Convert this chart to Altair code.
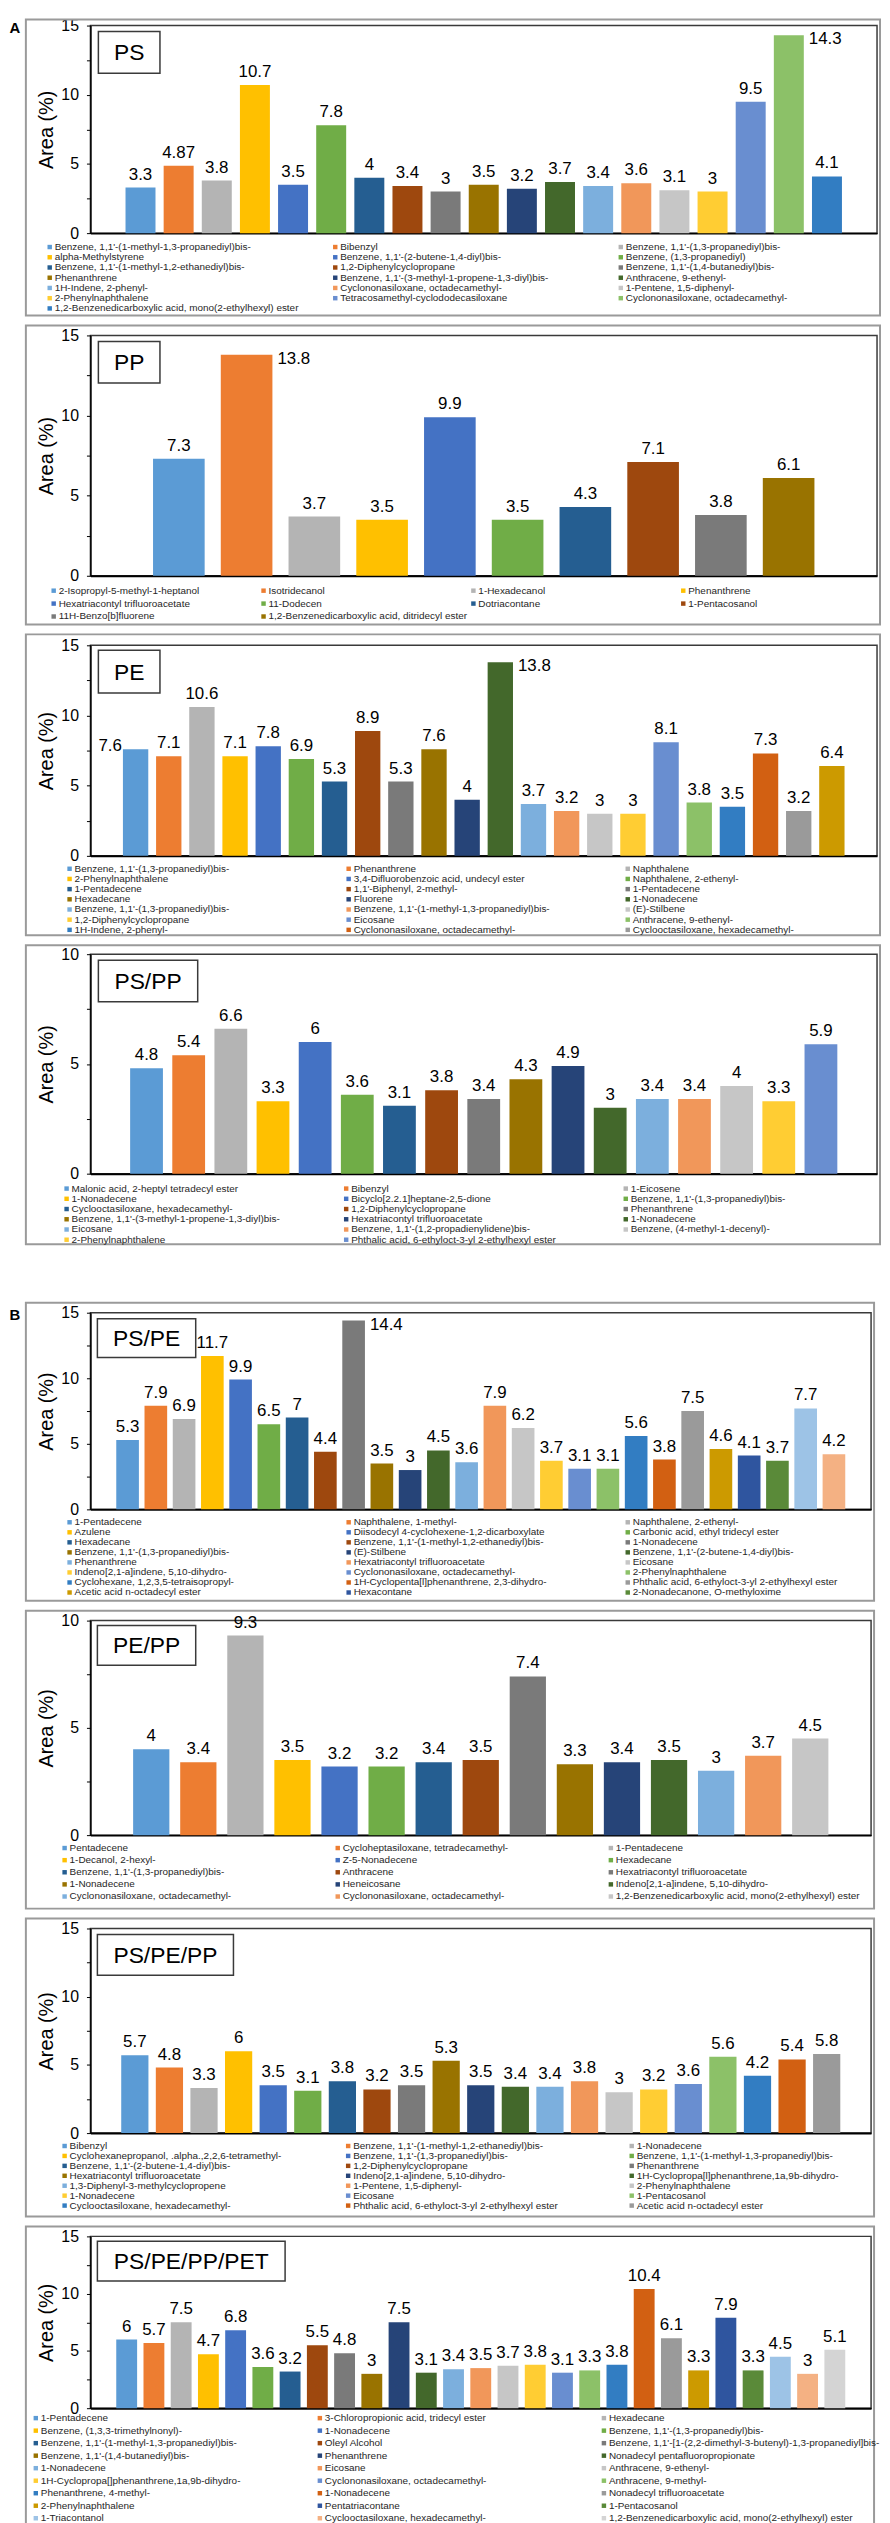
import math
import altair as alt
import pandas as pd

FONT = "Liberation Sans, Arial, Helvetica, sans-serif"

PALETTE = ["#5B9BD5", "#ED7D31", "#B4B4B4", "#FFC000", "#4472C4", "#70AD47",
           "#255E91", "#9E480E", "#7A7A7A", "#997300", "#264478", "#43682B",
           "#7CAFDD", "#F1975A", "#C6C6C6", "#FFCD33", "#698ED0", "#8CC168",
           "#327DC2", "#D26012", "#9A9A9A", "#CC9A00", "#2F559F", "#5A8A39",
           "#9DC3E6", "#F4B183", "#D4D4D4"]

# ---------------- data ----------------
PS_NAMES = [
    "Benzene, 1,1'-(1-methyl-1,3-propanediyl)bis-", "Bibenzyl", "Benzene, 1,1'-(1,3-propanediyl)bis-",
    "alpha-Methylstyrene", "Benzene, 1,1'-(2-butene-1,4-diyl)bis-", "Benzene, (1,3-propanediyl)",
    "Benzene, 1,1'-(1-methyl-1,2-ethanediyl)bis-", "1,2-Diphenylcyclopropane", "Benzene, 1,1'-(1,4-butanediyl)bis-",
    "Phenanthrene", "Benzene, 1,1'-(3-methyl-1-propene-1,3-diyl)bis-", "Anthracene, 9-ethenyl-",
    "1H-Indene, 2-phenyl-", "Cyclononasiloxane, octadecamethyl-", "1-Pentene, 1,5-diphenyl-",
    "2-Phenylnaphthalene", "Tetracosamethyl-cyclododecasiloxane", "Cyclononasiloxane, octadecamethyl-",
    "1,2-Benzenedicarboxylic acid, mono(2-ethylhexyl) ester"]
PS_VALUES = [3.3, 4.87, 3.8, 10.7, 3.5, 7.8, 4, 3.4, 3, 3.5, 3.2, 3.7, 3.4, 3.6, 3.1, 3, 9.5, 14.3, 4.1]

PP_NAMES = [
    "2-Isopropyl-5-methyl-1-heptanol", "Isotridecanol", "1-Hexadecanol", "Phenanthrene",
    "Hexatriacontyl trifluoroacetate", "11-Dodecen", "Dotriacontane", "1-Pentacosanol",
    "11H-Benzo[b]fluorene", "1,2-Benzenedicarboxylic acid, ditridecyl ester"]
PP_VALUES = [7.3, 13.8, 3.7, 3.5, 9.9, 3.5, 4.3, 7.1, 3.8, 6.1]

PE_NAMES = [
    "Benzene, 1,1'-(1,3-propanediyl)bis-", "Phenanthrene", "Naphthalene",
    "2-Phenylnaphthalene", "3,4-Difluorobenzoic acid, undecyl ester", "Naphthalene, 2-ethenyl-",
    "1-Pentadecene", "1,1'-Biphenyl, 2-methyl-", "1-Pentadecene",
    "Hexadecane", "Fluorene", "1-Nonadecene",
    "Benzene, 1,1'-(1,3-propanediyl)bis-", "Benzene, 1,1'-(1-methyl-1,3-propanediyl)bis-", "(E)-Stilbene",
    "1,2-Diphenylcyclopropane", "Eicosane", "Anthracene, 9-ethenyl-",
    "1H-Indene, 2-phenyl-", "Cyclononasiloxane, octadecamethyl-", "Cyclooctasiloxane, hexadecamethyl-"]
PE_VALUES = [7.6, 7.1, 10.6, 7.1, 7.8, 6.9, 5.3, 8.9, 5.3, 7.6, 4, 13.8, 3.7, 3.2, 3, 3, 8.1, 3.8, 3.5, 7.3, 3.2, 6.4]

PSPP_NAMES = [
    "Malonic acid, 2-heptyl tetradecyl ester", "Bibenzyl", "1-Eicosene",
    "1-Nonadecene", "Bicyclo[2.2.1]heptane-2,5-dione", "Benzene, 1,1'-(1,3-propanediyl)bis-",
    "Cyclooctasiloxane, hexadecamethyl-", "1,2-Diphenylcyclopropane", "Phenanthrene",
    "Benzene, 1,1'-(3-methyl-1-propene-1,3-diyl)bis-", "Hexatriacontyl trifluoroacetate", "1-Nonadecene",
    "Eicosane", "Benzene, 1,1'-(1,2-propadienylidene)bis-", "Benzene, (4-methyl-1-decenyl)-",
    "2-Phenylnaphthalene", "Phthalic acid, 6-ethyloct-3-yl 2-ethylhexyl ester"]
PSPP_VALUES = [4.8, 5.4, 6.6, 3.3, 6, 3.6, 3.1, 3.8, 3.4, 4.3, 4.9, 3, 3.4, 3.4, 4, 3.3, 5.9]

PSPE_NAMES = [
    "1-Pentadecene", "Naphthalene, 1-methyl-", "Naphthalene, 2-ethenyl-",
    "Azulene", "Diisodecyl 4-cyclohexene-1,2-dicarboxylate", "Carbonic acid, ethyl tridecyl ester",
    "Hexadecane", "Benzene, 1,1'-(1-methyl-1,2-ethanediyl)bis-", "1-Nonadecene",
    "Benzene, 1,1'-(1,3-propanediyl)bis-", "(E)-Stilbene", "Benzene, 1,1'-(2-butene-1,4-diyl)bis-",
    "Phenanthrene", "Hexatriacontyl trifluoroacetate", "Eicosane",
    "Indeno[2,1-a]indene, 5,10-dihydro-", "Cyclononasiloxane, octadecamethyl-", "2-Phenylnaphthalene",
    "Cyclohexane, 1,2,3,5-tetraisopropyl-", "1H-Cyclopenta[l]phenanthrene, 2,3-dihydro-",
    "Phthalic acid, 6-ethyloct-3-yl 2-ethylhexyl ester",
    "Acetic acid n-octadecyl ester", "Hexacontane", "2-Nonadecanone, O-methyloxime"]
PSPE_VALUES = [5.3, 7.9, 6.9, 11.7, 9.9, 6.5, 7, 4.4, 14.4, 3.5, 3, 4.5, 3.6, 7.9, 6.2, 3.7, 3.1, 3.1,
               5.6, 3.8, 7.5, 4.6, 4.1, 3.7, 7.7, 4.2]

PEPP_NAMES = [
    "Pentadecene", "Cycloheptasiloxane, tetradecamethyl-", "1-Pentadecene",
    "1-Decanol, 2-hexyl-", "Z-5-Nonadecene", "Hexadecane",
    "Benzene, 1,1'-(1,3-propanediyl)bis-", "Anthracene", "Hexatriacontyl trifluoroacetate",
    "1-Nonadecene", "Heneicosane", "Indeno[2,1-a]indene, 5,10-dihydro-",
    "Cyclononasiloxane, octadecamethyl-", "Cyclononasiloxane, octadecamethyl-",
    "1,2-Benzenedicarboxylic acid, mono(2-ethylhexyl) ester"]
PEPP_VALUES = [4, 3.4, 9.3, 3.5, 3.2, 3.2, 3.4, 3.5, 7.4, 3.3, 3.4, 3.5, 3, 3.7, 4.5]

PSPEPP_NAMES = [
    "Bibenzyl", "Benzene, 1,1'-(1-methyl-1,2-ethanediyl)bis-", "1-Nonadecene",
    "Cyclohexanepropanol, .alpha.,2,2,6-tetramethyl-", "Benzene, 1,1'-(1,3-propanediyl)bis-",
    "Benzene, 1,1'-(1-methyl-1,3-propanediyl)bis-",
    "Benzene, 1,1'-(2-butene-1,4-diyl)bis-", "1,2-Diphenylcyclopropane", "Phenanthrene",
    "Hexatriacontyl trifluoroacetate", "Indeno[2,1-a]indene, 5,10-dihydro-",
    "1H-Cyclopropa[l]phenanthrene,1a,9b-dihydro-",
    "1,3-Diphenyl-3-methylcyclopropene", "1-Pentene, 1,5-diphenyl-", "2-Phenylnaphthalene",
    "1-Nonadecene", "Eicosane", "1-Pentacosanol",
    "Cyclooctasiloxane, hexadecamethyl-", "Phthalic acid, 6-ethyloct-3-yl 2-ethylhexyl ester",
    "Acetic acid n-octadecyl ester"]
PSPEPP_VALUES = [5.7, 4.8, 3.3, 6, 3.5, 3.1, 3.8, 3.2, 3.5, 5.3, 3.5, 3.4, 3.4, 3.8, 3, 3.2, 3.6, 5.6,
                 4.2, 5.4, 5.8]

ALL_NAMES = [
    "1-Pentadecene", "3-Chloropropionic acid, tridecyl ester", "Hexadecane",
    "Benzene, (1,3,3-trimethylnonyl)-", "1-Nonadecene", "Benzene, 1,1'-(1,3-propanediyl)bis-",
    "Benzene, 1,1'-(1-methyl-1,3-propanediyl)bis-", "Oleyl Alcohol",
    "Benzene, 1,1'-[1-(2,2-dimethyl-3-butenyl)-1,3-propanediyl]bis-",
    "Benzene, 1,1'-(1,4-butanediyl)bis-", "Phenanthrene", "Nonadecyl pentafluoropropionate",
    "1-Nonadecene", "Eicosane", "Anthracene, 9-ethenyl-",
    "1H-Cyclopropa[]phenanthrene,1a,9b-dihydro-", "Cyclononasiloxane, octadecamethyl-", "Anthracene, 9-methyl-",
    "Phenanthrene, 4-methyl-", "1-Nonadecene", "Nonadecyl trifluoroacetate",
    "2-Phenylnaphthalene", "Pentatriacontane", "1-Pentacosanol",
    "1-Triacontanol", "Cyclooctasiloxane, hexadecamethyl-",
    "1,2-Benzenedicarboxylic acid, mono(2-ethylhexyl) ester"]
ALL_VALUES = [6, 5.7, 7.5, 4.7, 6.8, 3.6, 3.2, 5.5, 4.8, 3, 7.5, 3.1, 3.4, 3.5, 3.7, 3.8, 3.1, 3.3, 3.8,
              10.4, 6.1, 3.3, 7.9, 3.3, 4.5, 3, 5.1]

PANEL_TITLES = ["PS", "PP", "PE", "PS/PP", "PS/PE", "PE/PP", "PS/PE/PP", "PS/PE/PP/PET"]
PANEL_DATA = [(PS_NAMES, PS_VALUES), (PP_NAMES, PP_VALUES), (PE_NAMES, PE_VALUES),
              (PSPP_NAMES, PSPP_VALUES), (PSPE_NAMES, PSPE_VALUES), (PEPP_NAMES, PEPP_VALUES),
              (PSPEPP_NAMES, PSPEPP_VALUES), (ALL_NAMES, ALL_VALUES)]
Y_MAX = [15, 15, 15, 10, 15, 10, 15, 15]

# ---------------- layout (pixels) ----------------
LAYOUT = [
    dict(W=792, H=209, pi=0.214, po=0.92, ft=-6, fb=83, box=(8, 70, 6, 48),
         lg=(3, -41, 287.5, 223, 10.3), letter="A", right=[17], left=[]),
    dict(W=792, H=242, pi=0.238, po=0.924, ft=-10, fb=49, box=(8, 70, 6, 48),
         lg=(4, -37, 211.3, 257, 13.0), letter="", right=[1], left=[]),
    dict(W=792, H=212, pi=0.2355, po=0.98, ft=-11, fb=80, box=(8, 70, 5, 48),
         lg=(3, -21, 281, 225, 10.25), letter="", right=[11], left=[0]),
    dict(W=792, H=221, pi=0.222, po=0.942, ft=-9, fb=71, box=(8, 108, 6, 48),
         lg=(3, -24, 281.5, 236, 10.3), letter="", right=[], left=[]),
    dict(W=786, H=198, pi=0.1985, po=0.914, ft=-10, fb=92, box=(7, 106, 6, 45),
         lg=(3, -21, 281, 211, 10.1), letter="B", right=[8], left=[]),
    dict(W=786, H=216, pi=0.23, po=0.907, ft=-10, fb=74, box=(7, 106, 5, 45),
         lg=(3, -26, 275, 229, 12.2), letter="", right=[], left=[]),
    dict(W=786, H=206, pi=0.213, po=0.89, ft=-10, fb=84, box=(7, 144, 6, 47),
         lg=(3, -26, 285.5, 219, 10.0), letter="", right=[], left=[]),
    dict(W=786, H=173, pi=0.234, po=0.948, ft=-10, fb=118, box=(7, 196, 5, 45),
         lg=(3, -55, 286, 183, 12.6), letter="", right=[], left=[]),
]


def make_panel(k):
    names, values = PANEL_DATA[k]
    L = LAYOUT[k]
    W, H = L["W"], L["H"]
    n = len(values)
    ymax = Y_MAX[k]
    pos = ["top"] * n
    for i in L["right"]:
        pos[i] = "right"
    for i in L["left"]:
        pos[i] = "left"
    df = pd.DataFrame({"i": list(range(n)), "v": values,
                       "lab": [f"{v:g}" for v in values], "pos": pos,
                       "col": PALETTE[:n]})
    step = W / (n - L["pi"] + 2 * L["po"])
    bw = step * (1 - L["pi"])

    xenc = alt.X("i:O", scale=alt.Scale(domain=list(range(n)), paddingInner=L["pi"],
                                        paddingOuter=L["po"]),
                 axis=alt.Axis(title=None, labels=False, ticks=False, domainColor="black",
                               domainWidth=2))
    tickvals = [x * 2.5 for x in range(int(ymax / 2.5) + 1)]
    yenc = alt.Y("v:Q", scale=alt.Scale(domain=[0, ymax], nice=False, zero=True),
                 axis=alt.Axis(values=tickvals, labelExpr="datum.value % 5 === 0 ? datum.label : ''",
                               title="Area (%)", titleFontSize=20, titleFontWeight="normal",
                               titlePadding=4, labelFontSize=16, labelPadding=8, tickSize=4,
                               tickColor="black", domainColor="black", domainWidth=1.5,
                               grid=False, labelColor="black", titleColor="black"))
    color = alt.Color("col:N", scale=None, legend=None)

    base = alt.Chart(df)
    bars = base.mark_bar().encode(x=xenc, y=yenc, color=color)
    t_top = base.transform_filter(alt.datum.pos == "top").mark_text(
        baseline="bottom", dy=-4, fontSize=17, color="black").encode(x=xenc, y=yenc, text="lab:N")
    t_right = base.transform_filter(alt.datum.pos == "right").mark_text(
        align="left", baseline="middle", dx=bw / 2 + 5, dy=4, fontSize=17, color="black"
    ).encode(x=xenc, y=yenc, text="lab:N")
    t_left = base.transform_filter(alt.datum.pos == "left").mark_text(
        align="right", baseline="middle", dx=-(bw / 2 + 1), dy=-3, fontSize=17, color="black"
    ).encode(x=xenc, y=yenc, text="lab:N")
    inner = alt.layer(bars, t_top, t_right, t_left)

    one = pd.DataFrame({"k": [0]})
    ftop, fbot = L["ft"], H + L["fb"]
    spacer = alt.Chart(one).mark_rect(fill="white", strokeWidth=0).encode(
        x=alt.value(-82), x2=alt.value(-67), y=alt.value(ftop), y2=alt.value(fbot))
    frame = alt.Chart(one).mark_rect(fillOpacity=0, stroke="#9a9a9a", strokeWidth=2).encode(
        x=alt.value(-65), x2=alt.value(W + 3), y=alt.value(ftop), y2=alt.value(fbot))

    bx1, bx2, by1, by2 = L["box"]
    box = alt.Chart(one).mark_rect(fill="white", stroke="#3a3a3a", strokeWidth=1.5).encode(
        x=alt.value(bx1), x2=alt.value(bx2), y=alt.value(by1), y2=alt.value(by2))
    boxtext = alt.Chart(one).mark_text(text=PANEL_TITLES[k], fontSize=23, align="center",
                                       baseline="middle", color="black").encode(
        x=alt.value((bx1 + bx2) / 2), y=alt.value((by1 + by2) / 2 + 1))

    ncol, lx0, ldx, ly0, ldy = L["lg"]
    nl = len(names)
    nrow = math.ceil(nl / ncol)
    ldf = pd.DataFrame({"i": list(range(nl)), "name": names, "col": PALETTE[:nl],
                        "c": [i % ncol for i in range(nl)], "r": [i // ncol for i in range(nl)]})
    lx = alt.X("c:Q", scale=alt.Scale(domain=[0, ncol - 1], range=[lx0, lx0 + (ncol - 1) * ldx],
                                      nice=False, zero=False), axis=None)
    ly = alt.Y("r:Q", scale=alt.Scale(domain=[0, nrow - 1], range=[ly0, ly0 + (nrow - 1) * ldy],
                                      nice=False, zero=False), axis=None)
    lsq = alt.Chart(ldf).mark_square(size=20, opacity=1).encode(x=lx, y=ly, color=color)
    ltx = alt.Chart(ldf).mark_text(align="left", baseline="middle", dx=5, fontSize=10,
                                   color="#262626").encode(x=lx, y=ly, text="name:N")

    layers = [spacer, frame, inner, lsq, ltx, box, boxtext]
    if L["letter"]:
        letter = alt.Chart(one).mark_text(text=L["letter"], fontSize=15, fontWeight="bold",
                                          align="center", baseline="middle", color="black").encode(
            x=alt.value(-76), y=alt.value(2))
        layers.append(letter)
    return alt.layer(*layers).resolve_scale(x="independent", y="independent").properties(
        width=W, height=H)


panels = [make_panel(k) for k in range(8)]
group_a = alt.vconcat(*panels[:4], spacing=6)
group_b = alt.vconcat(*panels[4:], spacing=6)
chart = alt.vconcat(group_a, group_b, spacing=55).properties(
    padding=0, background="white"
).configure(font=FONT).configure_view(stroke="#3a3a3a", strokeWidth=1.5).configure_axis(
    labelFont=FONT, titleFont=FONT)

chart.save("out.html", embed_options={"renderer": "svg", "actions": False})
